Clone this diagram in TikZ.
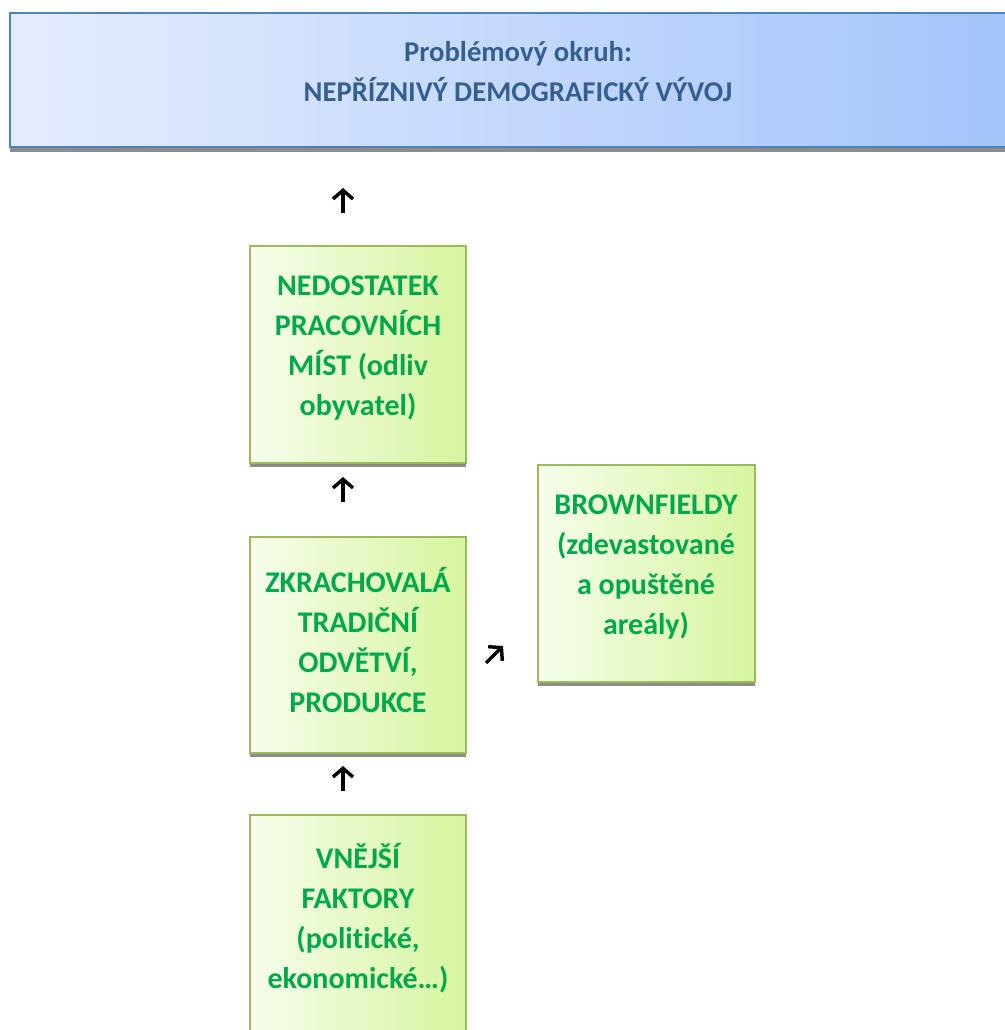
\documentclass[tikz,border=0pt]{standalone}
\usepackage{fontspec}
\setmainfont{Carlito}[Ligatures=NoCommon]
\usetikzlibrary{arrows.meta}
\definecolor{titleblue}{RGB}{54,95,145}
\definecolor{titleborder}{RGB}{79,129,189}
\definecolor{titleL}{RGB}{228,237,253}
\definecolor{titleR}{RGB}{163,195,250}
\definecolor{greentext}{RGB}{0,168,76}
\definecolor{boxborder}{RGB}{155,187,89}
\definecolor{boxL}{RGB}{246,253,236}
\definecolor{boxR}{RGB}{214,245,158}
\tikzset{
  greenbox/.style={draw=boxborder, line width=1.5pt, left color=boxL, right color=boxR},
  titlebox/.style={draw=titleborder, line width=1pt, left color=titleL, right color=titleR},
  shadowband/.style={fill=black!45, draw=none},
  boxtext/.style={font=\bfseries\fontsize{22.5}{30}\selectfont, text=greentext, align=center},
  titletext/.style={font=\bfseries\fontsize{21.5}{30}\selectfont, text=titleblue, align=center},
  glypharrow/.style={line width=2.6pt, -{Straight Barb[length=6.5pt,width=15pt,line width=2.6pt]}}
}
\begin{document}
\begin{tikzpicture}[x=0.75pt,y=-0.75pt]
\useasboundingbox (0,0) rectangle (1005,1030);
\begin{scope}
\clip (0,0) rectangle (1005,1030);
% title
\fill[shadowband] (10,147) rectangle (1030,152);
\path[titlebox] (10,13) rectangle (1030,147);
\node[titletext] (title) at (518,72) {Problémový okruh:\\NEPŘÍZNIVÝ DEMOGRAFICKÝ VÝVOJ};
% box 1
\fill[shadowband] (250,463) rectangle (466,467);
\path[greenbox] (250,246) rectangle (466,463);
\node[boxtext] (t1) at (358,348) {NEDOSTATEK\\PRACOVNÍCH\\MÍST (odliv\\obyvatel)};
% box 2
\fill[shadowband] (250,753) rectangle (466,757);
\path[greenbox] (250,537) rectangle (466,753);
\node[boxtext] (t2) at (358,640) {ZKRACHOVALÁ\\TRADIČNÍ\\ODVĚTVÍ,\\PRODUKCE};
% box 3
\path[greenbox] (250,815) rectangle (466,1040);
\node[boxtext] (t3) at (358,918) {VNĚJŠÍ\\FAKTORY\\(politické,\\ekonomické…)};
% box 4
\fill[shadowband] (538,682) rectangle (755,686);
\path[greenbox] (538,465) rectangle (755,682);
\node[boxtext] (t4) at (646,567) {BROWNFIELDY\\(zdevastované\\a opuštěné\\areály)};
% arrows
\coordinate (a1s) at (343,213); \coordinate (a1e) at (343,188);
\coordinate (a2s) at (343,502); \coordinate (a2e) at (343,477);
\coordinate (a3s) at (343,791); \coordinate (a3e) at (343,766);
\coordinate (a4s) at (486,663); \coordinate (a4e) at (503,646);
\draw[glypharrow] (a1s) -- (a1e);
\draw[glypharrow] (a2s) -- (a2e);
\draw[glypharrow] (a3s) -- (a3e);
\draw[glypharrow] (a4s) -- (a4e);
\end{scope}
\end{tikzpicture}
\end{document}
